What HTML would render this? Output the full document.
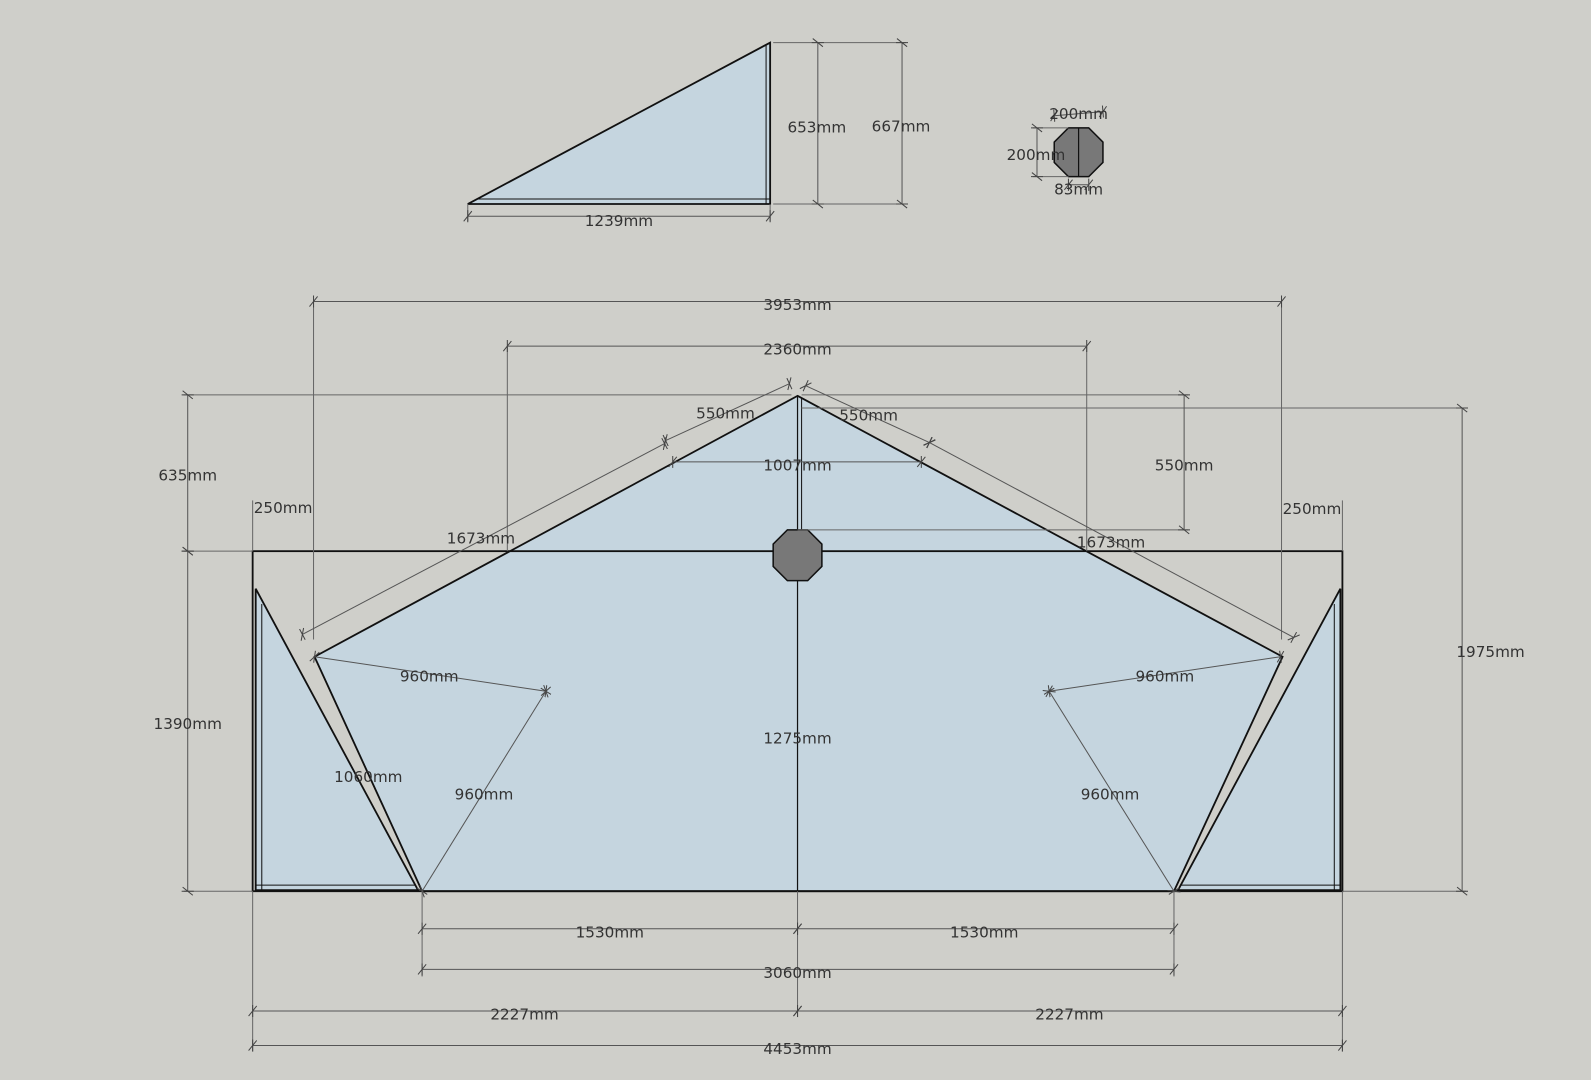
<!DOCTYPE html>
<html><head><meta charset="utf-8"><style>
html,body{margin:0;padding:0;background:#cfcfca;}
svg{display:block}
text{font-family:"DejaVu Sans","Liberation Sans",sans-serif;font-size:15px;fill:#333;text-anchor:middle;dominant-baseline:middle}
.d{stroke:#555;stroke-width:1;fill:none;marker-start:url(#t);marker-end:url(#t)}
.e{stroke:#666;stroke-width:1;fill:none}
.s{stroke:#111;stroke-width:1.8;fill:none}
.b{fill:#c5d5df;stroke:#111;stroke-width:1.8}
</style></head><body>
<svg width="1591" height="1080" viewBox="0 0 1568 1064" preserveAspectRatio="none" xmlns="http://www.w3.org/2000/svg">
<defs><marker id="t" viewBox="-6 -6 12 12" markerWidth="12" markerHeight="12" refX="0" refY="0" orient="auto" markerUnits="userSpaceOnUse"><path d="M-4 5 L4 -5 M0 -6 L0 6" stroke="#444" stroke-width="1" fill="none"/></marker></defs>
<rect width="1568" height="1064" fill="#cfcfca"/>
<!-- top triangle -->
<polygon class="b" points="461,201 759,42 759,201"/>
<line class="s" x1="470" y1="196" x2="759" y2="196" style="stroke-width:1"/>
<line class="s" x1="755" y1="44" x2="755" y2="201" style="stroke-width:1"/>
<line class="e" x1="461" y1="201" x2="461" y2="218"/><line class="e" x1="759" y1="201" x2="759" y2="218"/>
<line class="d" x1="461" y1="213" x2="759" y2="213"/><text x="610" y="218">1239mm</text>
<line class="e" x1="762" y1="42" x2="893" y2="42"/><line class="e" x1="762" y1="201" x2="893" y2="201"/>
<line class="d" x1="806" y1="42" x2="806" y2="201"/><text x="805" y="126">653mm</text>
<line class="d" x1="889" y1="42" x2="889" y2="201"/><text x="888" y="125">667mm</text>
<!-- small octagon -->
<polygon points="1053,126 1073,126 1087,140 1087,160 1073,174 1053,174 1039,160 1039,140" fill="#787878" stroke="#111" stroke-width="1.5"/>
<line x1="1063" y1="126" x2="1063" y2="174" stroke="#111" stroke-width="1.2"/>
<line class="d" x1="1039" y1="114" x2="1087" y2="110"/><text x="1063" y="113">200mm</text>
<line class="e" x1="1018" y1="126" x2="1053" y2="126"/><line class="e" x1="1018" y1="174" x2="1053" y2="174"/>
<line class="d" x1="1022" y1="126" x2="1022" y2="174"/><text x="1021" y="153">200mm</text>
<line class="d" x1="1053" y1="182" x2="1073" y2="182"/><text x="1063" y="187">83mm</text>
<!-- main shapes -->
<polygon class="b" points="252,580 252,877 412,877"/>
<polygon class="b" points="1321,580 1321,877 1161,877"/>
<polygon class="b" points="786,390 1264,647 1157,878 416,878 310,647"/>
<line x1="258" y1="595" x2="258" y2="877" stroke="#111"/><line x1="1315" y1="595" x2="1315" y2="877" stroke="#111"/>
<line x1="252" y1="872" x2="410" y2="872" stroke="#111"/><line x1="1163" y1="872" x2="1321" y2="872" stroke="#111"/>
<rect x="249" y="543" width="1074" height="335" class="s"/>
<line x1="790" y1="392" x2="790" y2="543" stroke="#111"/>
<line x1="786" y1="390" x2="786" y2="878" stroke="#111" stroke-width="1.2"/>
<polygon points="776,522 796,522 810,536 810,558 796,572 776,572 762,558 762,536" fill="#787878" stroke="#111" stroke-width="1.5"/>
<!-- dims main -->
<line class="e" x1="309" y1="297" x2="309" y2="630"/><line class="e" x1="1263" y1="297" x2="1263" y2="630"/>
<line class="d" x1="309" y1="297" x2="1263" y2="297"/><text x="786" y="301">3953mm</text>
<line class="e" x1="500" y1="341" x2="500" y2="543"/><line class="e" x1="1071" y1="341" x2="1071" y2="543"/>
<line class="d" x1="500" y1="341" x2="1071" y2="341"/><text x="786" y="345">2360mm</text>
<line class="e" x1="181" y1="389" x2="780" y2="389"/><line class="e" x1="181" y1="543" x2="249" y2="543"/><line class="e" x1="181" y1="878" x2="249" y2="878"/>
<line class="d" x1="185" y1="389" x2="185" y2="543"/><text x="185" y="469">635mm</text>
<line class="d" x1="185" y1="543" x2="185" y2="878"/><text x="185" y="714">1390mm</text>
<line class="e" x1="790" y1="402" x2="1445" y2="402"/><line class="e" x1="1323" y1="878" x2="1445" y2="878"/>
<line class="d" x1="1441" y1="402" x2="1441" y2="878"/><text x="1469" y="643">1975mm</text>
<line class="e" x1="790" y1="389" x2="1171" y2="389"/><line class="e" x1="786" y1="522" x2="1171" y2="522"/>
<line class="d" x1="1167" y1="389" x2="1167" y2="522"/><text x="1167" y="459">550mm</text>
<line class="d" x1="663" y1="455" x2="908" y2="455"/><text x="786" y="459">1007mm</text>
<line class="d" x1="656" y1="434" x2="778" y2="378"/><text x="715" y="408">550mm</text>
<line class="d" x1="794" y1="380" x2="916" y2="436"/><text x="856" y="410">550mm</text>
<line class="d" x1="298" y1="625" x2="655" y2="437"/><text x="474" y="531">1673mm</text>
<line class="d" x1="916" y1="436" x2="1275" y2="628"/><text x="1095" y="535">1673mm</text>
<line class="e" x1="249" y1="493" x2="249" y2="543"/><line class="e" x1="1323" y1="493" x2="1323" y2="543"/>
<text x="279" y="501">250mm</text><text x="1293" y="502">250mm</text>
<line class="d" x1="310" y1="647" x2="538" y2="681"/><text x="423" y="667">960mm</text>
<line class="d" x1="538" y1="681" x2="416" y2="878"/><text x="477" y="783">960mm</text>
<line class="d" x1="1262" y1="647" x2="1034" y2="681"/><text x="1148" y="667">960mm</text>
<line class="d" x1="1034" y1="681" x2="1157" y2="878"/><text x="1094" y="783">960mm</text>
<text x="363" y="766">1060mm</text>
<text x="786" y="728">1275mm</text>
<!-- bottom dims -->
<line class="e" x1="416" y1="878" x2="416" y2="962"/><line class="e" x1="1157" y1="878" x2="1157" y2="962"/>
<line class="e" x1="786" y1="878" x2="786" y2="1002"/>
<line class="e" x1="249" y1="878" x2="249" y2="1036"/><line class="e" x1="1323" y1="878" x2="1323" y2="1036"/>
<line class="d" x1="416" y1="915" x2="786" y2="915"/><text x="601" y="919">1530mm</text>
<line class="d" x1="786" y1="915" x2="1157" y2="915"/><text x="970" y="919">1530mm</text>
<line class="d" x1="416" y1="955" x2="1157" y2="955"/><text x="786" y="959">3060mm</text>
<line class="d" x1="249" y1="996" x2="786" y2="996"/><text x="517" y="1000">2227mm</text>
<line class="d" x1="786" y1="996" x2="1323" y2="996"/><text x="1054" y="1000">2227mm</text>
<line class="d" x1="249" y1="1030" x2="1323" y2="1030"/><text x="786" y="1034">4453mm</text>
</svg>
</body></html>
